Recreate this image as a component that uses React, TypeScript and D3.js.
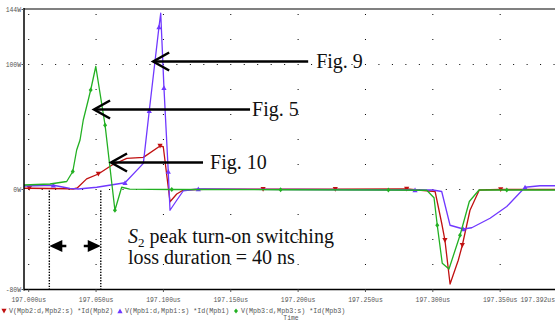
import React from "react";
import * as d3 from "d3";

// time in ns after 197.000us, power in W
const redPts = [
  [-3.5, 1], [0.5, 1, 1], [29, 0.6], [33, 0.4], [36, 1.2], [43, 8.5], [51.7, 12.4, 1],
  [61.6, 19.4], [72.8, 24.9], [85.1, 25.7], [97.5, 34.8, 1], [99.9, 34.2], [104.9, -9.8],
  [109.9, -3.6], [114.8, -0.4], [130, 0.2], [174, 0.2, 1], [227.6, 0.2, 1], [280.6, 0.4, 1],
  [301.7, -1.6], [306.6, -27], [309, -40.6, 1], [312.8, -75.6], [318.9, -56.6], [321.9, -44.6, 1],
  [327.6, -16.6], [334.5, -0.4], [350.4, 0, 1], [392, 0]
];
const bluePts = [
  [-3.5, 2.8], [18.3, 3.4, 1], [26, 1.8], [30.6, 0.9], [36.8, 0.4], [50.5, 1.8], [71.5, 5.4, 1],
  [85.1, 20.9], [89.5, 63, 1], [96.7, 130, 1], [98, 141], [100.4, 81.4, 1], [103.6, 14.4, 1],
  [104.9, -16.6], [109.9, -8.6], [114.8, -1], [125.9, 0.4, 1], [200, 0], [286.8, -0.4, 1],
  [300, -0.4], [306.6, -1.6], [312.8, -28.6], [322.6, -31.6, 1], [328.9, -30.6], [342.5, -23],
  [354.9, -13.6], [368.5, 1.8, 1], [379.6, 3], [392, 3]
];
const greenPts = [
  [-3.5, 3.6], [15.8, 4.4], [28.2, 6.4], [32.7, 14.4, 1], [35.6, 31.6], [38.1, 39.6], [40.5, 55.6],
  [44.2, 71.6], [46, 79.6, 1], [49.8, 98.4], [56.7, 51.4, 1], [64, -16.6, 1], [69, 1.8], [75, 0.3],
  [106.2, 0, 1], [187, -0.2, 1], [267, -0.4, 1], [295.5, -0.6], [300.9, -6.6], [303.3, -28.6, 1],
  [307, -59], [312, -63.6], [320.2, -36.6, 1], [327.1, -9.6], [334.3, -0.4], [354.9, -0.4, 1], [392, -0.4]
];

const xTicks = [0, 50, 100, 150, 200, 250, 300, 350, 392];
const yTicks = [144, 100, 0, -80];
const gridRows = [100, 0];
const legendNames = [
  "V(Mpb2:d,Mpb2:s) *Id(Mpb2)",
  "V(Mpb1:d,Mpb1:s) *Id(Mpb1)",
  "V(Mpb3:d,Mpb3:s) *Id(Mpb3)"
];

// annotation arrows: tip in data units, label
const figNotes = [
  { t: 92.4, w: 102.8, len: 155, label: "Fig. 9", gap: 8 },
  { t: 48.5, w: 64.4, len: 156, label: "Fig. 5", gap: 2 },
  { t: 61.1, w: 22, len: 92, label: "Fig. 10", gap: 7 }
];
const lossBounds = [15.3, 53.5];

const RED = "#c01010";
const BLUE = "#7038ff";
const GREEN = "#22b022";

const x = d3.scaleLinear().domain([-3.5, 392]).range([24, 24 + 395.5 * 1.347]);
const y = d3.scaleLinear().domain([-80, 144]).range([289.5, 9.5]);

const line = d3
  .line<number[]>()
  .x(d => x(d[0]))
  .y(d => y(d[1]));

const Marker = ({ kind, cx, cy, color }) => {
  if (kind === "down")
    return <path d={`M${cx - 2.6},${cy - 2.2}L${cx + 2.6},${cy - 2.2}L${cx},${cy + 2.4}Z`} fill={color} />;
  if (kind === "up")
    return <path d={`M${cx - 2.6},${cy + 2.2}L${cx + 2.6},${cy + 2.2}L${cx},${cy - 2.4}Z`} fill={color} />;
  return <path d={`M${cx},${cy - 2.6}L${cx + 2},${cy}L${cx},${cy + 2.6}L${cx - 2},${cy}Z`} fill={color} />;
};

const series = [
  { pts: redPts, color: RED, kind: "down" },
  { pts: bluePts, color: BLUE, kind: "up" },
  { pts: greenPts, color: GREEN, kind: "diamond" }
];

const fmt = (t: number) => (197 + t / 1000).toFixed(3) + "us";

export default function App() {
  const left = 24;
  const right = 555;
  const dots: React.ReactElement[] = [];
  xTicks.slice(0, -1).forEach(t => {
    for (let w = -60; w <= 140; w += 20) {
      dots.push(<rect key={`v${t}_${w}`} x={x(t) - 0.5} y={y(w) - 0.5} width={1} height={1} fill="#000" />);
    }
  });
  gridRows.forEach(w => {
    for (let t = 0; t <= 390; t += 10) {
      if (t % 50 === 0) continue;
      dots.push(<rect key={`h${t}_${w}`} x={x(t) - 0.5} y={y(w) - 0.5} width={1} height={1} fill="#000" />);
    }
  });

  const mono = "'Liberation Mono', 'DejaVu Sans Mono', monospace";
  const serif = "'Liberation Serif', 'Times New Roman', serif";

  return (
    <svg width={555} height={322} style={{ position: "absolute", left: 0, top: 0, background: "#fff" }}>
      <defs>
        <clipPath id="plot">
          <rect x={left} y={8} width={right - left} height={283} />
        </clipPath>
      </defs>
      <rect width={555} height={322} fill="#fff" />
      {dots}

      {/* loss window markers */}
      {lossBounds.map(t => (
        <line key={t} x1={x(t)} x2={x(t)} y1={y(0) + 1} y2={y(-80)} stroke="#000" strokeWidth={1.4} strokeDasharray="1.4,1.4" />
      ))}

      <g clipPath="url(#plot)">
        {series.map((s, i) => (
          <g key={i}>
            <path d={line(s.pts) as string} fill="none" stroke={s.color} strokeWidth={1.3} strokeLinejoin="round" />
            {s.pts
              .filter(p => p[2])
              .map((p, j) => (
                <Marker key={j} kind={s.kind} cx={x(p[0])} cy={y(p[1])} color={s.color} />
              ))}
          </g>
        ))}
      </g>

      {/* axes */}
      <line x1={left} x2={right} y1={9} y2={9} stroke="#808080" strokeWidth={2} />
      <line x1={left} x2={left} y1={8} y2={290.5} stroke="#000" strokeWidth={1.5} />
      <line x1={left} x2={right} y1={y(-80)} y2={y(-80)} stroke="#000" strokeWidth={1.5} />
      {yTicks.map(w => (
        <g key={w}>
          <line x1={left - 2.5} x2={left} y1={y(w)} y2={y(w)} stroke="#555" strokeWidth={1} />
          <text x={left - 3} y={y(w)} dy="0.35em" textAnchor="end" fontFamily={mono} fontSize={6.4} fill="#555">
            {w}W
          </text>
        </g>
      ))}
      {xTicks.map((t, i) => (
        <g key={t}>
          <line x1={x(t)} x2={x(t)} y1={y(-80)} y2={y(-80) + 2.5} stroke="#555" strokeWidth={1} />
          <text
            x={i === xTicks.length - 1 ? 555 : x(t)}
            y={302}
            textAnchor={i === xTicks.length - 1 ? "end" : "middle"}
            fontFamily={mono}
            fontSize={6.4}
            fill="#555"
          >
            {fmt(t)}
          </text>
        </g>
      ))}

      {/* legend */}
      {legendNames.map((name, i) => {
        const lx = 4 + i * 116;
        return (
          <g key={name}>
            <Marker kind={series[i].kind} cx={lx} cy={311} color={series[i].color} />
            <text x={lx + 5} y={313} fontFamily={mono} fontSize={6.7} fill="#555">
              {name}
            </text>
          </g>
        );
      })}
      <text x={291} y={319.5} textAnchor="middle" fontFamily={mono} fontSize={6.4} fill="#555">
        Time
      </text>

      {/* Fig. arrows */}
      {figNotes.map(n => {
        const tx = x(n.t);
        const ty = Math.round(y(n.w)) + 0.5;
        return (
          <g key={n.label}>
            <line x1={tx} x2={tx + n.len} y1={ty} y2={ty} stroke="#000" strokeWidth={2.5} />
            <polyline
              points={`${tx + 16},${ty - 9} ${tx},${ty} ${tx + 16},${ty + 9}`}
              fill="none"
              stroke="#000"
              strokeWidth={2.5}
            />
            <text x={tx + n.len + n.gap} y={ty + 6} fontFamily={serif} fontSize={20} fill="#111">
              {n.label}
            </text>
          </g>
        );
      })}

      {/* double arrow for loss window */}
      {(() => {
        const a = x(lossBounds[0]);
        const b = x(lossBounds[1]);
        const ay = 246;
        return (
          <g>
            <path d={`M${a},${ay}L${a + 13},${ay - 6}L${a + 13},${ay + 6}Z`} fill="#000" />
            <line x1={a + 12} x2={a + 17} y1={ay} y2={ay} stroke="#000" strokeWidth={2.5} />
            <path d={`M${b},${ay}L${b - 13},${ay - 6}L${b - 13},${ay + 6}Z`} fill="#000" />
            <line x1={b - 12} x2={b - 17} y1={ay} y2={ay} stroke="#000" strokeWidth={2.5} />
          </g>
        );
      })()}

      <text x={128} y={243} fontFamily={serif} fontSize={20} fill="#111">
        <tspan fontStyle="italic">S</tspan>
        <tspan fontSize={13} dy={4}>2</tspan>
        <tspan dy={-4}> peak turn-on switching</tspan>
      </text>
      <text x={128} y={264} fontFamily={serif} fontSize={20} fill="#111">
        loss duration = 40 ns
      </text>
    </svg>
  );
}
